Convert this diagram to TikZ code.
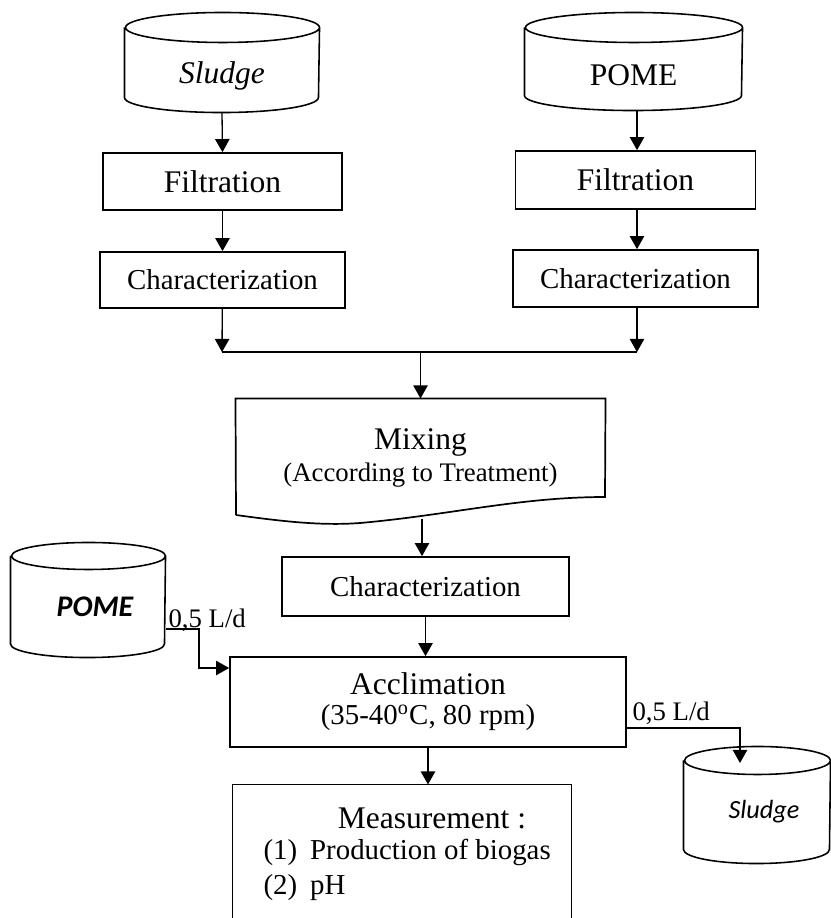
\documentclass[tikz,border=0pt]{standalone}
\usepackage{fontspec}
\setmainfont{Liberation Serif}[ItalicFont={Liberation Serif Italic},
  BoldFont={Liberation Serif Bold}]
\newfontfamily\calibri{Carlito}[ItalicFont={Carlito Italic},
  BoldItalicFont={Carlito Bold Italic}]
\usepackage{tikz}
\usetikzlibrary{arrows.meta}
\newcommand{\pxu}{0.381pt}
% drum outline round a named node: node, half width, end radius (px)
\newcommand{\drum}[3]{%
  \draw[line width=0.6pt] ([yshift=-#3*\pxu]#1.north west) -- ([yshift=#3*\pxu]#1.south west)
    arc[start angle=180, end angle=360, x radius=#2*\pxu, y radius=#3*\pxu]
    -- ([yshift=-#3*\pxu]#1.north east)
    arc[start angle=0, end angle=360, x radius=#2*\pxu, y radius=#3*\pxu];}

\begin{document}
\begin{tikzpicture}[
  x=0.381pt, y=-0.381pt,
  box/.style={rectangle, draw, line width=0.65pt, inner sep=0pt,
              font=\fontsize{12}{14}\selectfont},
  tank/.style={rectangle, inner sep=0pt},
  big/.style={font=\fontsize{12}{14}\selectfont},
  mid/.style={font=\fontsize{11}{13}\selectfont},
  small/.style={font=\fontsize{10.2}{12}\selectfont},
  flow/.style={-{Triangle[length=5pt, width=5.5pt]}, line width=0.5pt},
  pipe/.style={line width=0.5pt},
]
\useasboundingbox (0,0) rectangle (830,918);

% sources
\node[tank, minimum width=194*\pxu, minimum height=99*\pxu] (sludgeA) at (222,62.5) {};
\drum{sludgeA}{97}{15}
\node[font=\fontsize{12}{14}\selectfont\itshape] (sludgeAtxt) at (222,76) {Sludge};
\node[tank, minimum width=217*\pxu, minimum height=97*\pxu] (pomeA) at (633.5,61.5) {};
\drum{pomeA}{108.5}{15}
\node[big] (pomeAtxt) at (633.5,75) {POME};

% left column
\node[box, minimum width=239*\pxu, minimum height=57*\pxu] (filtA) at (222.5,181.5) {Filtration};
\node[box, mid, minimum width=245*\pxu, minimum height=56*\pxu] (charA) at (222.5,280) {Characterization};

% right column
\node[box, minimum width=240*\pxu, minimum height=58*\pxu] (filtB) at (635.5,180) {Filtration};
\node[box, mid, minimum width=245*\pxu, minimum height=57*\pxu] (charB) at (635.5,278.5) {Characterization};

\coordinate (joinL) at (222,352);
\coordinate (joinR) at (637,352);

% mixing (document shape)
\node[minimum width=369*\pxu, minimum height=118*\pxu, inner sep=0pt, align=center]
  (mix) at (420.5,458)
  {{\fontsize{12}{14}\selectfont Mixing}\\[0pt]
   {\fontsize{10.2}{12}\selectfont (According to Treatment)}};
\draw[line width=0.65pt] (236,515) -- (mix.north west) -- (mix.north east)
  -- (605,497) .. controls (520,497) and (450,515) .. (360,523)
  .. controls (320,526) and (280,521) .. (236,515);

\node[box, mid, minimum width=287*\pxu, minimum height=59*\pxu] (charC) at (425.5,586.5) {Characterization};

\node[box, minimum width=396*\pxu, minimum height=90*\pxu, align=center] (accl) at (428,702)
  {Acclimation\\[-2.5pt]{\fontsize{11}{13}\selectfont (35-40\textsuperscript{o}C, 80 rpm)}};

% measurement box, open at the bottom
\node[minimum width=338*\pxu, minimum height=133*\pxu, inner sep=0pt] (meas) at (402,851.5) {};
\draw[line width=0.65pt] (meas.south west) -- (meas.north west) -- (meas.north east) -- (meas.south east);
\node[big] (measT) at (432,818) {Measurement :};
\node[mid, anchor=west, inner sep=0pt] (measA) at (263,852)
  {(1)\hspace{0.45em}Production of biogas};
\node[mid, anchor=west, inner sep=0pt] (measB) at (263,888)
  {(2)\hspace{0.45em}pH};

% feed and drain
\node[tank, minimum width=154*\pxu, minimum height=114*\pxu] (pomeB) at (88,600) {};
\drum{pomeB}{77}{13.5}
\node[font=\fontsize{11.4}{13}\selectfont\calibri\bfseries\itshape] (pomeBtxt) at (95,607) {POME};
\node[tank, minimum width=146*\pxu, minimum height=116*\pxu] (sludgeB) at (757,805) {};
\drum{sludgeB}{73}{14}
\node[font=\fontsize{10}{12}\selectfont\calibri\itshape] (sludgeBtxt) at (764,812) {Sludge};

\coordinate (feedL) at (199,629);
\coordinate (feedIn) at (0,668);
\coordinate (drainR) at (740,728);
\coordinate (drainEnd) at (740,763);

% connectors
\draw[flow] (sludgeA.south) -- (filtA.north);
\draw[flow] (filtA) -- (charA);
\draw[flow] (charA) -- (joinL);
\draw[flow] (pomeA.south -| joinR) -- (filtB.north -| joinR);
\draw[flow] (filtB.south -| joinR) -- (charB.north -| joinR);
\draw[flow] (charB.south -| joinR) -- (joinR);
\draw[pipe] (joinL) -- (joinR);
\draw[flow] (mix.north |- joinL) -- (mix.north);
\draw[flow] (422,519) -- (charC.north -| 422,0);
\draw[flow] (charC.south) -- (charC.south |- accl.north);
\draw[flow] (accl.south) -- (accl.south |- meas.north);

\draw[flow] (pomeB.east |- feedL) -- (feedL) |- (accl.west |- feedIn);
\node[small, anchor=base west, inner sep=0pt] (feedLbl) at (168,627) {0,5 L/d};
\draw[flow] (accl.east |- drainR) -| (drainEnd);
\node[small, anchor=base west, inner sep=0pt] (drainLbl) at (632,720) {0,5 L/d};

\end{tikzpicture}
\end{document}
